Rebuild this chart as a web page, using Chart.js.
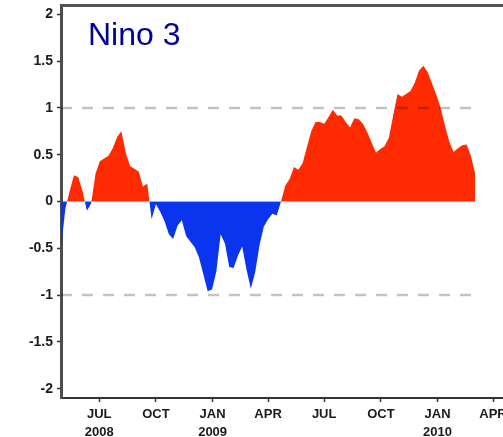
<!DOCTYPE html>
<html>
<head>
<meta charset="utf-8">
<title>Nino 3</title>
<script src="https://cdn.jsdelivr.net/npm/chart.js"></script>
<style>
  html, body { margin: 0; padding: 0; background: #fff; overflow: hidden; }
  #wrap { width: 503px; height: 437px; overflow: hidden; position: relative; }
  canvas { display: block; }
</style>
</head>
<body>
<div id="wrap"><canvas id="c" width="540" height="437"></canvas></div>
<script>
// Weekly Nino 3 SST anomaly (degC), weeks centred on Wednesdays
const firstWeek = '2008-04-30';
const nino3 = [
  -0.50, -0.08, 0.11, 0.28, 0.26, 0.11, -0.10, -0.02, 0.30, 0.43,
  0.46, 0.49, 0.57, 0.69, 0.75, 0.52, 0.38, 0.35, 0.32, 0.16,
  0.19, -0.19, -0.03, -0.11, -0.21, -0.35, -0.40, -0.26, -0.20, -0.37,
  -0.43, -0.49, -0.60, -0.78, -0.96, -0.94, -0.75, -0.35, -0.45, -0.70,
  -0.71, -0.58, -0.48, -0.73, -0.93, -0.76, -0.47, -0.27, -0.19, -0.13,
  -0.15, 0.00, 0.17, 0.24, 0.37, 0.34, 0.41, 0.58, 0.75, 0.85,
  0.85, 0.83, 0.90, 0.98, 0.92, 0.92, 0.85, 0.79, 0.89, 0.88,
  0.83, 0.74, 0.63, 0.52, 0.56, 0.59, 0.68, 0.92, 1.15, 1.12,
  1.15, 1.18, 1.27, 1.40, 1.45, 1.38, 1.26, 1.14, 1.00, 0.81,
  0.64, 0.53, 0.57, 0.60, 0.61, 0.49, 0.30
];

// Axis extent and ticks
const axisStart = '2008-04-30';
const axisEnd = '2010-05-31';
const tickDates = ['2008-07-01', '2008-10-01', '2009-01-01', '2009-04-01',
                   '2009-07-01', '2009-10-01', '2010-01-01', '2010-04-01'];
const tickMonths = ['JUL', 'OCT', 'JAN', 'APR', 'JUL', 'OCT', 'JAN', 'APR'];
const tickYears = ['2008', '', '2009', '', '', '', '2010', ''];
const yTicks = [-2, -1.5, -1, -0.5, 0, 0.5, 1, 1.5, 2];
const refLevels = [1, -1];
const titleText = 'Nino 3';

const DAY = 86400000;
const toMs = s => Date.parse(s + 'T00:00:00Z');
const t0 = toMs(firstWeek);
const series = nino3.map((v, i) => ({ x: t0 + i * 7 * DAY, y: v }));
const tEnd = series[series.length - 1].x;

const refSets = refLevels.map(level => ({
  data: [{ x: t0, y: level }, { x: tEnd, y: level }],
  borderColor: 'rgba(0,0,0,0.24)',
  borderWidth: 2.5,
  borderDash: [11, 10],
  pointRadius: 0,
  fill: false,
  order: 0
}));

const labelFont = { family: "'Liberation Sans', Arial, sans-serif", size: 14, weight: 'bold' };

const titlePlugin = {
  id: 'panelTitle',
  afterDraw(chart) {
    const { ctx, chartArea } = chart;
    ctx.save();
    ctx.font = "32px 'Liberation Sans', Arial, sans-serif";
    ctx.fillStyle = '#00009a';
    ctx.textBaseline = 'alphabetic';
    ctx.fillText(titleText, chartArea.left + 27, chartArea.top + 40);
    ctx.restore();
  }
};

new Chart(document.getElementById('c'), {
  type: 'line',
  data: {
    datasets: [
      ...refSets,
      {
        data: series,
        borderWidth: 0,
        pointRadius: 0,
        tension: 0,
        fill: { target: 'origin', above: '#ff2a00', below: '#0a34ee' },
        order: 1
      }
    ]
  },
  options: {
    responsive: false,
    animation: false,
    events: [],
    layout: { padding: { top: 5, right: 10, left: 0, bottom: 0 } },
    plugins: { legend: { display: false }, tooltip: { enabled: false }, title: { display: false } },
    scales: {
      x: {
        type: 'linear',
        min: toMs(axisStart),
        max: toMs(axisEnd),
        afterBuildTicks: s => { s.ticks = tickDates.map(d => ({ value: toMs(d) })); },
        afterFit: s => { s.height = 39; s.paddingLeft = 0; s.paddingRight = 0; },
        grid: { display: true, drawOnChartArea: false, drawTicks: true, tickLength: 4, tickColor: '#333', tickWidth: 1.5 },
        border: { display: true, color: '#333', width: 2 },
        ticks: {
          autoSkip: false,
          maxRotation: 0,
          padding: 3,
          color: '#1a1a1a',
          font: { family: labelFont.family, size: 13, weight: 'bold', lineHeight: 1.42 },
          callback: (v, i) => tickYears[i] ? [tickMonths[i], tickYears[i]] : tickMonths[i]
        }
      },
      xTop: {
        type: 'linear',
        position: 'top',
        min: toMs(axisStart),
        max: toMs(axisEnd),
        afterFit: s => { s.height = 0; },
        grid: { display: false },
        border: { display: true, color: '#555', width: 3 },
        ticks: { display: false }
      },
      y: {
        min: -2.1,
        max: 2.1,
        afterBuildTicks: s => { s.ticks = yTicks.map(v => ({ value: v })); },
        afterFit: s => { s.width = 61; s.paddingTop = 0; s.paddingBottom = 0; },
        grid: { display: true, drawOnChartArea: false, drawTicks: true, tickLength: 4, tickColor: '#333', tickWidth: 1.5 },
        border: { display: true, color: '#4d4d4d', width: 3 },
        ticks: {
          padding: 4,
          color: '#1a1a1a',
          font: labelFont,
          callback: v => String(v)
        }
      }
    }
  },
  plugins: [titlePlugin]
});
</script>
</body>
</html>
